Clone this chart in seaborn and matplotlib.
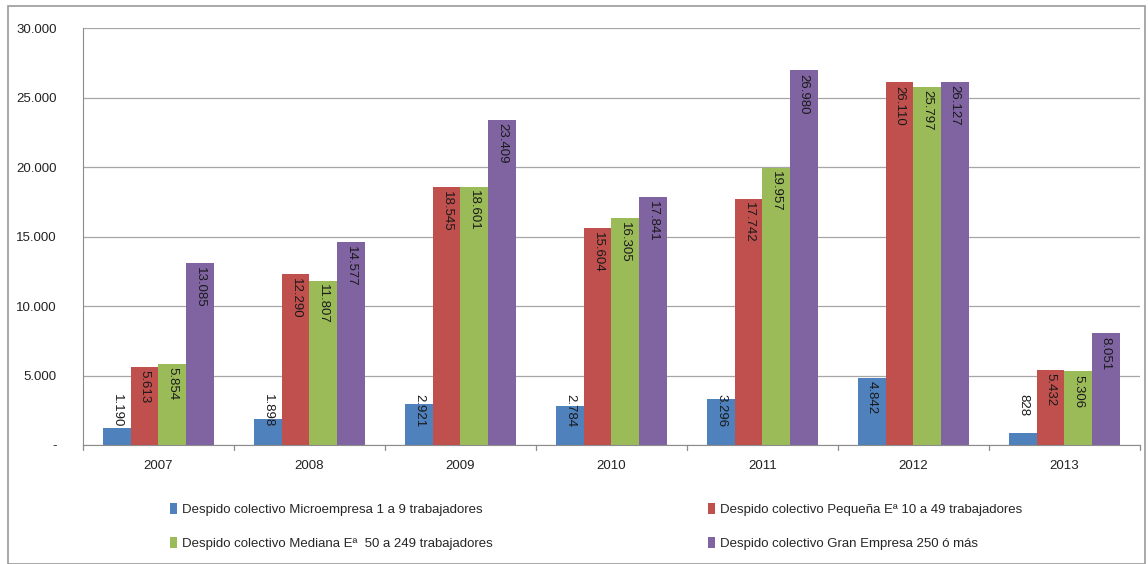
import matplotlib
matplotlib.use("Agg")
import matplotlib.pyplot as plt
import seaborn as sns
import pandas as pd
from matplotlib.patches import Rectangle, Patch
from matplotlib.ticker import FuncFormatter, MultipleLocator

years = ["2007", "2008", "2009", "2010", "2011", "2012", "2013"]
series = [
    "Despido colectivo Microempresa 1 a 9 trabajadores",
    "Despido colectivo Pequeña Eª 10 a 49 trabajadores",
    "Despido colectivo Mediana Eª  50 a 249 trabajadores",
    "Despido colectivo Gran Empresa 250 ó más",
]
micro = [1190, 1898, 2921, 2784, 3296, 4842, 828]
pequena = [5613, 12290, 18545, 15604, 17742, 26110, 5432]
mediana = [5854, 11807, 18601, 16305, 19957, 25797, 5306]
gran = [13085, 14577, 23409, 17841, 26980, 26127, 8051]
colors = ["#4F81BD", "#C0504D", "#9BBB59", "#8064A2"]

rows = []
for s, vals in zip(series, [micro, pequena, mediana, gran]):
    for y, v in zip(years, vals):
        rows.append({"year": y, "serie": s, "value": v})
df = pd.DataFrame(rows)

sns.set_style("white")
plt.rcParams["font.family"] = ["Liberation Sans Narrow", "Liberation Sans", "DejaVu Sans"]

fig = plt.figure(figsize=(11.48, 5.64), dpi=100)
ax = fig.add_axes([0.0723, 0.211, 0.9207, 0.739])

sns.barplot(data=df, x="year", y="value", hue="serie", hue_order=series,
            palette=colors, width=0.73, ax=ax, legend=False, saturation=1,
            errorbar=None, linewidth=0, edgecolor="none")

def fmt(v, pos):
    if v == 0:
        return "-"
    return f"{int(v):,}".replace(",", ".")

ax.set_ylim(0, 30000)
ax.set_xlim(-0.5, 6.5)
ax.yaxis.set_major_locator(MultipleLocator(5000))
ax.yaxis.set_major_formatter(FuncFormatter(fmt))
ax.set_xlabel("")
ax.set_ylabel("")
ax.grid(axis="y", color="#a6a6a6", linewidth=0.9)
ax.set_axisbelow(True)
for side in ["top", "right"]:
    ax.spines[side].set_visible(False)
ax.spines["left"].set_color("#8c8c8c")
ax.spines["bottom"].set_color("#8c8c8c")
ax.tick_params(axis="y", length=5, color="#8c8c8c", labelsize=9.5, pad=14, labelcolor="#222222")
ax.tick_params(axis="x", length=0, labelsize=9.5, pad=11, labelcolor="#222222")
for b in range(8):
    ax.plot([b - 0.5, b - 0.5], [0, -0.012], transform=ax.get_xaxis_transform(),
            color="#8c8c8c", lw=0.9, clip_on=False)

# value labels
for cont in ax.containers:
    for rect in cont:
        v = rect.get_height()
        xc = rect.get_x() + rect.get_width() / 2
        ytop = max(v - 250, 3700)
        ax.text(xc, ytop, f"{int(v):,}".replace(",", "."), rotation=270,
                ha="center", va="top", fontsize=9.5, color="#1a1a1a")

handles = [Patch(facecolor=c, edgecolor="none") for c in colors]
order = [0, 2, 1, 3]
fig.legend([handles[i] for i in order], [series[i] for i in order], ncol=2,
           loc="upper left", bbox_to_anchor=(0.138, 0.129), frameon=False,
           fontsize=9.5, handlelength=0.5, handleheight=0.9, handletextpad=0.4,
           columnspacing=16.3, labelspacing=1.55)

fig.patches.append(Rectangle((0.007, 0.0), 0.99, 0.99, transform=fig.transFigure,
                             fill=False, edgecolor="#9a9a9a", linewidth=1.2))

fig.savefig("out.png", dpi=100)
